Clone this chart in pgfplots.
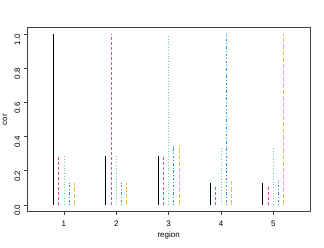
\documentclass[border=0pt]{standalone}
\usepackage{fontspec}
\setmainfont{Liberation Sans}
\usepackage{pgfplots}
\pgfplotsset{compat=1.18}
\definecolor{rblack}{HTML}{000000}
\definecolor{rred}{HTML}{DF536B}
\definecolor{rgreen}{HTML}{7CC99A}
\definecolor{rblue}{HTML}{2297E6}
\definecolor{ryellow}{HTML}{E2C244}
\begin{document}
\begin{tikzpicture}
\begin{axis}[
  scale only axis,
  width=282.7bp, height=184.4bp,
  xmin=0.3, xmax=5.7,
  ymin=-0.04, ymax=1.04,
  axis line style={black!75, line width=0.6pt},
  tick style={black!75, line width=0.6pt},
  tick align=outside,
  major tick length=3.5bp,
  xtick={1,2,3,4,5},
  ytick={0,0.2,0.4,0.6,0.8,1.0},
  xtick pos=bottom, ytick pos=left,
  /pgf/number format/assume math mode=true,
  yticklabel style={/pgf/number format/fixed, /pgf/number format/fixed zerofill, /pgf/number format/precision=1, rotate=90, anchor=south, font=\fontsize{8}{9}\selectfont, xshift=-5.5bp},
  xticklabel style={font=\fontsize{8}{9}\selectfont, yshift=-2.5bp},
  scaled y ticks=false,
  xlabel={region}, ylabel={cor},
  label style={font=\fontsize{8}{9}\selectfont},
  xlabel style={yshift=2bp},
  ylabel style={yshift=0.5bp},
  every axis plot/.append style={ycomb, mark=none, line width=0.85pt},
]
\addplot[rblack] coordinates {(0.8,1.0) (1.8,0.287) (2.8,0.287) (3.8,0.130) (4.8,0.130)};
\addplot[rred, dash pattern=on 2.5bp off 2.5bp] coordinates {(0.9,0.285) (1.9,1.0) (2.9,0.285) (3.9,0.117) (4.9,0.117)};
\addplot[rgreen, dash pattern=on 0.8bp off 2bp] coordinates {(1.0,0.286) (2.0,0.287) (3.0,1.0) (4.0,0.340) (5.0,0.340)};
\addplot[rblue, dash pattern=on 0.8bp off 2bp on 2.5bp off 2bp] coordinates {(1.1,0.130) (2.1,0.130) (3.1,0.350) (4.1,1.0) (5.1,0.145)};
\addplot[ryellow, dash pattern=on 4.5bp off 2bp] coordinates {(1.2,0.131) (2.2,0.131) (3.2,0.350) (4.2,0.147) (5.2,1.0)};
\end{axis}
\pgfresetboundingbox
\path ([shift={(-27.3bp,-35.3bp)}]current axis.south west) rectangle ([shift={(14bp,27.3bp)}]current axis.north east);
\end{tikzpicture}
\end{document}
